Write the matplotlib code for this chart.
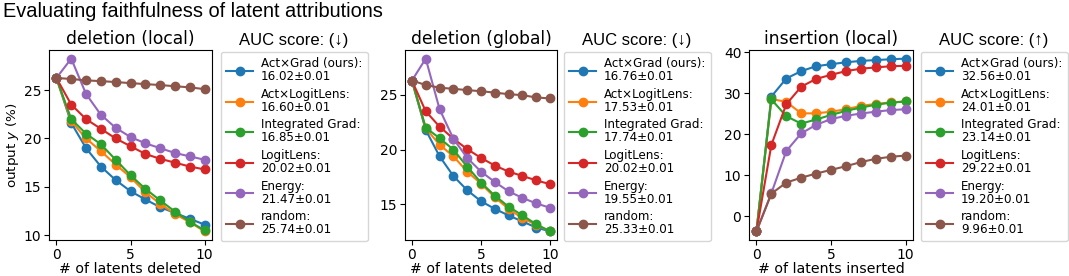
import numpy as np
import matplotlib
matplotlib.use("Agg")
import matplotlib.pyplot as plt

# methods, colours follow the default tab10 cycle
methods = ["Act×Grad (ours)", "Act×LogitLens", "Integrated Grad", "LogitLens", "Energy", "random"]
colors = ["tab:blue", "tab:orange", "tab:green", "tab:red", "tab:purple", "tab:brown"]
n_latents = np.arange(11)

# deletion (local)
del_local = [
    [26.25, 21.6, 19.0, 17.1, 15.7, 14.55, 13.7, 12.9, 12.3, 11.7, 11.1],
    [26.25, 21.8, 20.0, 18.7, 17.3, 16.0, 14.45, 13.25, 12.2, 11.35, 10.4],
    [26.25, 22.0, 20.5, 19.4, 17.8, 16.2, 14.8, 13.6, 12.45, 11.4, 10.5],
    [26.25, 23.5, 22.0, 21.0, 20.0, 19.2, 18.4, 17.9, 17.5, 17.1, 16.8],
    [26.25, 28.25, 24.6, 22.45, 21.1, 20.15, 19.5, 19.0, 18.5, 18.15, 17.8],
    [26.25, 26.15, 26.0, 25.93, 25.83, 25.72, 25.62, 25.52, 25.4, 25.28, 25.1],
]
auc_del_local = ["16.02", "16.60", "16.85", "20.02", "21.47", "25.74"]

# deletion (global)
del_global = [
    [26.3, 21.8, 19.4, 17.6, 16.3, 15.3, 14.6, 14.0, 13.45, 12.9, 12.55],
    [26.3, 21.95, 20.45, 19.4, 18.0, 16.9, 15.65, 14.6, 13.75, 13.15, 12.55],
    [26.3, 22.0, 21.05, 20.0, 18.45, 17.0, 15.8, 14.8, 14.0, 13.2, 12.55],
    [26.3, 23.5, 22.1, 21.0, 20.05, 19.25, 18.55, 18.0, 17.6, 17.2, 16.85],
    [26.3, 28.3, 23.7, 21.0, 19.25, 18.0, 17.05, 16.2, 15.6, 15.1, 14.7],
    [26.3, 25.9, 25.65, 25.55, 25.43, 25.33, 25.2, 25.06, 24.97, 24.76, 24.67],
]
auc_del_global = ["16.76", "17.53", "17.74", "20.02", "19.55", "25.33"]

# insertion (local)
ins_local = [
    [-3.7, 29.2, 33.6, 35.4, 36.6, 37.1, 37.55, 37.9, 38.1, 38.3, 38.45],
    [-3.7, 28.6, 27.9, 25.1, 25.1, 25.5, 26.1, 26.9, 27.4, 27.75, 28.0],
    [-3.7, 28.5, 24.4, 22.6, 23.6, 24.7, 25.7, 26.5, 27.2, 27.7, 28.0],
    [-3.7, 17.4, 27.3, 31.6, 33.5, 34.5, 35.4, 36.0, 36.3, 36.6, 36.7],
    [-3.7, 5.6, 15.9, 20.2, 22.3, 23.7, 24.5, 25.05, 25.5, 25.9, 26.1],
    [-3.7, 5.5, 8.2, 9.4, 10.4, 11.3, 12.2, 13.2, 14.0, 14.5, 14.8],
]
auc_ins_local = ["32.56", "24.01", "23.14", "29.22", "19.20", "9.96"]

panels = [
    ("deletion (local)", "# of latents deleted", del_local, auc_del_local, "AUC score: (↓)"),
    ("deletion (global)", "# of latents deleted", del_global, auc_del_global, "AUC score: (↓)"),
    ("insertion (local)", "# of latents inserted", ins_local, auc_ins_local, "AUC score: (↑)"),
]

W, H = 1069, 276
fig = plt.figure(figsize=(W / 100, H / 100), dpi=100)

# pixel boxes (left, top, right, bottom) for axes, and legend top-left corners
ax_px = [(49, 50, 212, 240), (405, 50, 557, 240), (749, 50, 913, 240)]
leg_px = [(221, 52), (564, 52), (921, 52)]
leg_w = 146

title_font = ["Liberation Sans", "DejaVu Sans"]

for i, (title, xlabel, series, aucs, leg_title) in enumerate(panels):
    l, t, r, b = ax_px[i]
    ax = fig.add_axes([l / W, 1 - b / H, (r - l) / W, (b - t) / H])
    for name, col, ys, auc in zip(methods, colors, series, aucs):
        ax.plot(n_latents, ys, "-o", color=col, lw=1.5, ms=6,
                label=f"{name}:\n{auc}±0.01")
    ax.set_title(title, fontsize=12.3, pad=4)
    ax.set_xlabel(xlabel, fontsize=10.2, labelpad=0)
    ax.set_xticks([0, 5, 10])
    ax.tick_params(labelsize=10, pad=2)
    if i == 0:
        ax.set_ylabel("output $y$ (%)", fontsize=9.7, labelpad=2)
    lx, ly = leg_px[i]
    leg = fig.legend(*ax.get_legend_handles_labels(), loc="upper left",
                     bbox_to_anchor=(lx / W, 1 - ly / H), bbox_transform=fig.transFigure,
                     fontsize=8.6, labelspacing=0.38, borderaxespad=0, borderpad=0.45,
                     handlelength=2.2, handletextpad=0.7)
    for txt in leg.get_texts():
        txt.set_linespacing(1.0)
    fig.text((lx + leg_w / 2) / W, 1 - 40 / H, leg_title, ha="center", va="center",
             fontsize=12, family=title_font)

fig.text(3 / W, 1 - 2 / H, "Evaluating faithfulness of latent attributions",
         ha="left", va="top", fontsize=14.4, family=title_font)

fig.savefig("out.png", dpi=100)
